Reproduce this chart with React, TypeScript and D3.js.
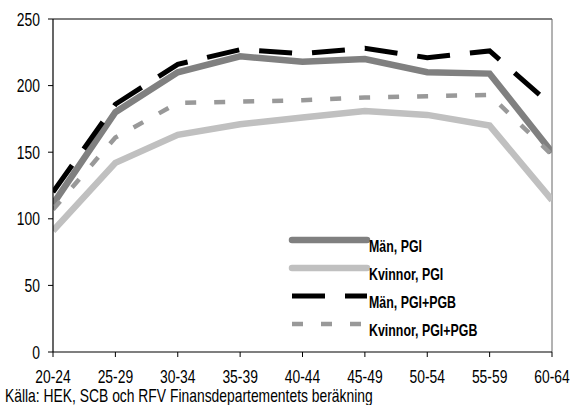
import React from 'react';
import * as d3 from 'd3';

const categories = ['20-24', '25-29', '30-34', '35-39', '40-44', '45-49', '50-54', '55-59', '60-64'];
const manPGI = [111, 180, 210, 222, 218, 220, 210, 209, 150];
const kvinnorPGI = [91, 142, 163, 171, 176, 181, 178, 170, 114];
const manPGIPGB = [120, 186, 216, 227, 224, 228, 221, 226, 185];
const kvinnorPGIPGB = [107, 161, 187, 188, 189, 191, 192, 193, 148];
const yTicks = [0, 50, 100, 150, 200, 250];
const seriesNames = ['Män, PGI', 'Kvinnor, PGI', 'Män, PGI+PGB', 'Kvinnor, PGI+PGB'];
const source = 'Källa: HEK, SCB och RFV Finansdepartementets beräkning';

// no narrow font installed, so squeeze Liberation Sans horizontally
const FONT = '"Liberation Sans", Arial, sans-serif';

const width = 573;
const height = 405;
const margin = { top: 19, right: 21, bottom: 53, left: 53 };

const styles = [
  { color: '#808080', width: 6.5, dash: undefined, cap: 'round' },
  { color: '#c0c0c0', width: 6.5, dash: undefined, cap: 'round' },
  { color: '#000000', width: 5, dash: '33,20', cap: 'butt' },
  { color: '#999999', width: 4.5, dash: '11,18', cap: 'butt' },
];

function NarrowText(props: {
  x: number;
  y: number;
  size: number;
  squeeze?: number;
  anchor?: string;
  bold?: boolean;
  dy?: string;
  children: React.ReactNode;
}) {
  const { x, y, size, squeeze = 0.75, anchor = 'start', bold, dy, children } = props;
  return (
    <text
      transform={`translate(${x},${y}) scale(${squeeze},1)`}
      dy={dy}
      textAnchor={anchor}
      fontSize={size}
      fontWeight={bold ? 'bold' : 'normal'}
      fill="#000"
    >
      {children}
    </text>
  );
}

export default function App() {
  const x = d3.scalePoint<string>()
    .domain(categories)
    .range([margin.left, width - margin.right]);

  const y = d3.scaleLinear()
    .domain([0, 250])
    .range([height - margin.bottom, margin.top]);

  const line = d3.line<number>()
    .x((_, i) => x(categories[i]) as number)
    .y(d => y(d));

  const series = [manPGI, kvinnorPGI, manPGIPGB, kvinnorPGIPGB];
  const x0 = margin.left;
  const x1 = width - margin.right;
  const y0 = height - margin.bottom;
  const y1 = margin.top;

  // legend placement
  const legX = 292;
  const legLen = 75;
  const legY = 240;
  const legStep = 28;

  return (
    <svg
      width={width}
      height={height}
      style={{ position: 'absolute', left: 0, top: 0, background: '#fff' }}
      fontFamily={FONT}
    >
      <defs>
        <clipPath id="plot">
          <rect x={x0} y={y1} width={x1 - x0} height={y0 - y1} />
        </clipPath>
      </defs>

      {/* frame */}
      <line x1={x0} x2={x1} y1={y1} y2={y1} stroke="#000" strokeWidth={1} />
      <line x1={x1} x2={x1} y1={y1} y2={y0} stroke="#666" strokeWidth={1} />

      <g clipPath="url(#plot)">
        {series.map((s, i) => (
          <path
            key={seriesNames[i]}
            d={line(s) || ''}
            fill="none"
            stroke={styles[i].color}
            strokeWidth={styles[i].width}
            strokeDasharray={styles[i].dash}
          />
        ))}
      </g>

      {/* y axis */}
      <line x1={x0} x2={x0} y1={y1} y2={y0} stroke="#000" strokeWidth={1.2} />
      {yTicks.map(t => (
        <g key={t}>
          <line x1={x0 - 5} x2={x0} y1={y(t)} y2={y(t)} stroke="#000" />
          <NarrowText x={x0 - 13} y={y(t)} dy="0.36em" anchor="end" size={18.5}>
            {t}
          </NarrowText>
        </g>
      ))}

      {/* x axis */}
      <line x1={x0} x2={x1} y1={y0} y2={y0} stroke="#000" strokeWidth={1.2} />
      {categories.map(c => (
        <g key={c}>
          <line x1={x(c)} x2={x(c)} y1={y0} y2={y0 + 5} stroke="#000" />
          <NarrowText x={x(c) as number} y={383} anchor="middle" size={18.5}>
            {c}
          </NarrowText>
        </g>
      ))}

      {/* legend */}
      {seriesNames.map((name, i) => (
        <g key={name}>
          <line
            x1={legX}
            x2={legX + legLen}
            y1={legY + i * legStep}
            y2={legY + i * legStep}
            stroke={styles[i].color}
            strokeWidth={styles[i].width}
            strokeDasharray={styles[i].dash}
            strokeLinecap={styles[i].cap as 'round' | 'butt'}
          />
          <NarrowText x={legX + legLen + 2} y={legY + i * legStep + 12} size={16.3} squeeze={0.76} bold>
            {name}
          </NarrowText>
        </g>
      ))}

      <NarrowText x={5} y={402} size={18.5}>{source}</NarrowText>
    </svg>
  );
}
